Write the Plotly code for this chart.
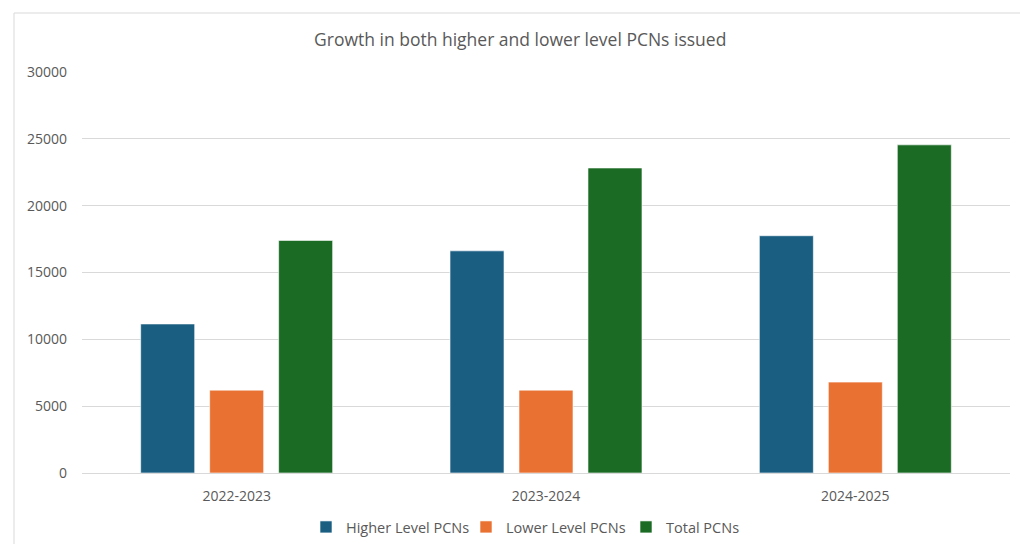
import plotly.graph_objects as go

categories = ["2022-2023", "2023-2024", "2024-2025"]
higher = [11150, 16620, 17750]
lower = [6200, 6200, 6800]
total = [17400, 22820, 24550]
series_names = ["Higher Level PCNs", "Lower Level PCNs", "Total PCNs"]
colors = ["#1a5e82", "#e97132", "#1b6b24"]

fig = go.Figure()
for name, vals, col in zip(series_names, [higher, lower, total], colors):
    fig.add_trace(go.Bar(
        x=categories, y=vals, name=name,
        marker=dict(color=col, line=dict(color="rgba(255,255,255,0.6)", width=1)),
    ))

L, R, T, B = 82, 10, 72, 71
W, H = 1020, 544
pw, ph = W - L - R, H - T - B

fig.update_layout(
    width=W, height=H,
    margin=dict(l=L, r=R, t=T, b=B, autoexpand=False),
    paper_bgcolor="white", plot_bgcolor="white",
    font=dict(family="Open Sans, sans-serif", color="#595959", size=14),
    title=dict(text="Growth in both higher and lower level PCNs issued",
               x=0.51, xanchor="center", y=1 - 40 / H, yanchor="middle",
               font=dict(size=17.5, color="#595959")),
    barmode="group", bargap=0.331, bargroupgap=0.217,
    showlegend=True,
    legend=dict(orientation="h", x=(306 - L) / pw, xanchor="left", y=(H - 527 - B) / ph, yanchor="middle",
                font=dict(size=14.5, color="#595959"), itemwidth=30, traceorder="normal",
                entrywidth=115, entrywidthmode="pixels"),
    xaxis=dict(showgrid=False, showline=True, linecolor="#d9d9d9", linewidth=1,
               ticks="", tickfont=dict(size=14, color="#595959"), ticklabelstandoff=10),
    yaxis=dict(range=[0, 30000], dtick=5000, showgrid=True, gridcolor="#d9d9d9",
               gridwidth=1, zeroline=False, showline=False, ticks="",
               tickformat="d", tickfont=dict(size=14, color="#595959"), ticklabelstandoff=14),
    shapes=[dict(type="rect", xref="paper", yref="paper",
                 x0=(14 - L) / pw, x1=(1025 - L) / pw,
                 y0=(H - B - 560) / ph, y1=(H - B - 13) / ph,
                 line=dict(color="#d9d9d9", width=1), fillcolor="rgba(0,0,0,0)", layer="below")],
)

fig.write_html("out.html")
